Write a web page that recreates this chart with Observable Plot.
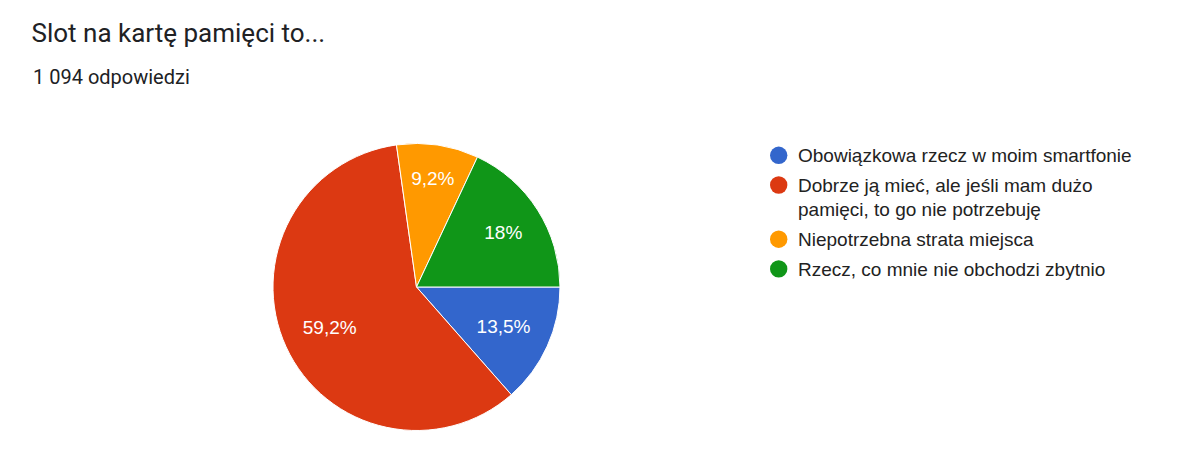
<!DOCTYPE html>
<html>
<head>
<meta charset="utf-8">
<script src="https://cdn.jsdelivr.net/npm/d3@7"></script>
<script src="https://cdn.jsdelivr.net/npm/@observablehq/plot@0.6"></script>
<style>
  body { margin: 0; background: #fff; }
  #wrap { position: relative; width: 1199px; height: 459px; overflow: hidden; background: #fff; }
  #header { position: relative; height: 100px; }
  #title { position: absolute; left: 31.5px; top: 19.8px; font: 26px/1 Roboto, "Open Sans", sans-serif; color: #202124; white-space: nowrap; }
  #subtitle { position: absolute; left: 33px; top: 66.5px; font: 20px/1 Roboto, "Open Sans", sans-serif; color: #202124; white-space: nowrap; }
  #chart svg { display: block; }
</style>
</head>
<body>
<div id="wrap">
  <div id="header">
    <div id="title"></div>
    <div id="subtitle"></div>
  </div>
  <div id="chart"></div>
</div>
<script>
const titleText = "Slot na kartę pamięci to...";
const subtitleText = "1 094 odpowiedzi";
const categories = [
  "Obowiązkowa rzecz w moim smartfonie",
  "Dobrze ją mieć, ale jeśli mam dużo pamięci, to go nie potrzebuję",
  "Niepotrzebna strata miejsca",
  "Rzecz, co mnie nie obchodzi zbytnio"
];
const shares = [13.5, 59.2, 9.2, 18];
const colors = ["#3366cc", "#dc3912", "#ff9900", "#109618"];

document.getElementById("title").textContent = titleText;
document.getElementById("subtitle").textContent = subtitleText;

const data = categories.map((c, i) => ({category: c, share: shares[i]}));
const fmt = v => String(v).replace(".", ",") + "%";

const W = 1199, H = 359;
const cx = 416.5, cy = 187, r = 143.5;
const font = "19px 'Liberation Sans', Arial, sans-serif";
const measure = (() => {
  const ctx = document.createElement("canvas").getContext("2d");
  ctx.font = font;
  return s => ctx.measureText(s).width;
})();

function pieMark(index, scales) {
  const color = (scales && scales.color) ? scales.color : (d => colors[categories.indexOf(d)]);
  const g = d3.select(document.createElementNS("http://www.w3.org/2000/svg", "g"));
  const pie = d3.pie().value(d => d.share).sort(null)
    .startAngle(Math.PI / 2).endAngle(Math.PI / 2 + 2 * Math.PI);
  const arcs = pie(data);
  const arc = d3.arc().innerRadius(0).outerRadius(r);
  const pg = g.append("g").attr("transform", `translate(${cx},${cy})`);
  pg.selectAll("path").data(arcs).join("path")
    .attr("d", arc)
    .attr("fill", d => color(d.data.category))
    .attr("stroke", "#fff")
    .attr("stroke-width", 1);
  // labels: far corner of the label box at fixed radius
  const R = 124, hh = 9.5;
  pg.selectAll("text").data(arcs).join("text")
    .each(function(d) {
      const a = (d.startAngle + d.endAngle) / 2;
      const s = Math.sin(a), c = -Math.cos(a);
      const label = fmt(d.data.share);
      const hw = measure(label) / 2;
      const b = Math.abs(s) * hw + Math.abs(c) * hh;
      const cc = hw * hw + hh * hh - R * R;
      const dist = -b + Math.sqrt(b * b - cc);
      d3.select(this)
        .attr("x", dist * s).attr("y", dist * c)
        .attr("dy", "0.35em")
        .attr("text-anchor", "middle")
        .attr("fill", "#fff")
        .style("font", font)
        .text(label);
    });
  // legend
  const lx = 778.7, tx = 798, maxW = 350, itemGap = 29.7, lineH = 24.5;
  let y = 55.3;
  const lg = g.append("g").attr("text-anchor", "start");
  categories.forEach(cat => {
    const words = cat.split(" ");
    const lines = [];
    let cur = "";
    words.forEach(w => {
      const t = cur ? cur + " " + w : w;
      if (measure(t) > maxW && cur) { lines.push(cur); cur = w; } else cur = t;
    });
    if (cur) lines.push(cur);
    lg.append("circle").attr("cx", lx).attr("cy", y).attr("r", 8.7).attr("fill", color(cat));
    const t = lg.append("text").attr("x", tx).attr("y", y)
      .attr("text-anchor", "start").attr("fill", "#222").style("font", font);
    lines.forEach((ln, i) => {
      t.append("tspan").attr("x", tx).attr("y", y + i * lineH).attr("dy", "0.35em").text(ln);
    });
    y += itemGap + (lines.length - 1) * lineH;
  });
  return g.node();
}

const chart = Plot.plot({
  width: W,
  height: H,
  margin: 0,
  style: {background: "#fff", overflow: "visible"},
  color: {domain: categories, range: colors},
  marks: [pieMark]
});
document.getElementById("chart").append(chart);
</script>
</body>
</html>
